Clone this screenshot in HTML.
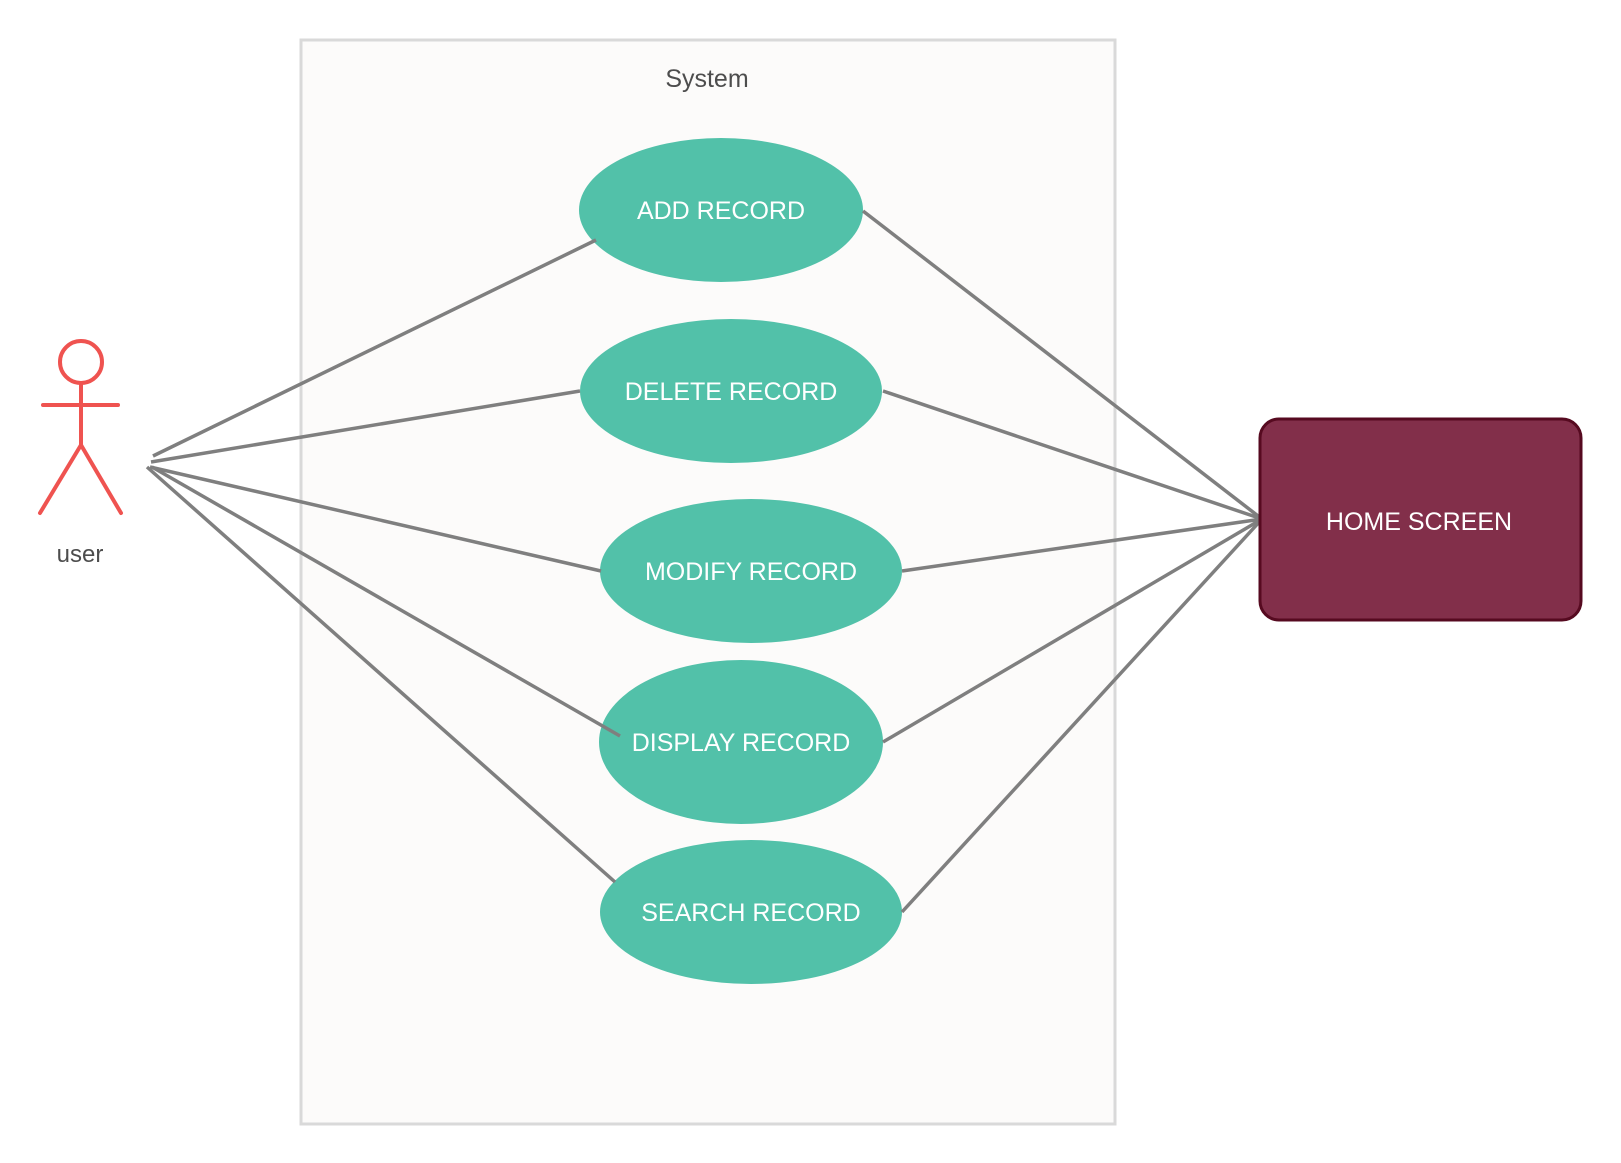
<!DOCTYPE html>
<html><head><meta charset="utf-8"><style>
html,body{margin:0;padding:0;background:#fff;}
svg{display:block;}
</style></head><body>
<svg width="1621" height="1163" viewBox="0 0 1621 1163" xmlns="http://www.w3.org/2000/svg" font-family="Liberation Sans, sans-serif">
<rect x="301" y="40" width="814" height="1084" fill="#fcfbfa" stroke="#d9d9d9" stroke-width="3"/>
<text x="707" y="87" font-size="25" fill="#4d4d4d" text-anchor="middle">System</text>
<g fill="none" stroke="#ef5350" stroke-width="4" stroke-linecap="round">
<circle cx="81" cy="362" r="21"/>
<line x1="81" y1="383" x2="81" y2="445"/>
<line x1="43" y1="405" x2="118" y2="405"/>
<line x1="81" y1="445" x2="40" y2="513"/>
<line x1="81" y1="445" x2="121" y2="513"/>
</g>
<text x="80" y="562" font-size="24" fill="#4d4d4d" text-anchor="middle">user</text>
<g fill="#52c1a9">
<ellipse cx="721" cy="210" rx="142" ry="72"/>
<ellipse cx="731" cy="391" rx="151" ry="72"/>
<ellipse cx="751" cy="571" rx="151" ry="72"/>
<ellipse cx="741" cy="742" rx="142" ry="82"/>
<ellipse cx="751" cy="912" rx="151" ry="72"/>
</g>
<g stroke="#7f7f7f" stroke-width="3.5" fill="none">
<line x1="153" y1="456" x2="596" y2="240"/>
<line x1="151" y1="462" x2="580" y2="391"/>
<line x1="150" y1="467" x2="601" y2="571"/>
<line x1="152" y1="467" x2="620" y2="736"/>
<line x1="147" y1="467" x2="615" y2="882"/>
<line x1="863" y1="211" x2="1262" y2="519"/>
<line x1="883" y1="391" x2="1262" y2="519"/>
<line x1="902" y1="571" x2="1262" y2="519"/>
<line x1="883" y1="742" x2="1262" y2="519"/>
<line x1="902" y1="912" x2="1262" y2="519"/>
</g>
<g fill="#fff" font-size="25" text-anchor="middle">
<text x="721" y="219">ADD RECORD</text>
<text x="731" y="400">DELETE RECORD</text>
<text x="751" y="580">MODIFY RECORD</text>
<text x="741" y="751">DISPLAY RECORD</text>
<text x="751" y="921">SEARCH RECORD</text>
</g>
<rect x="1260" y="419" width="321" height="201" rx="19" fill="#822f4a" stroke="#560a20" stroke-width="3"/>
<text x="1419" y="530" font-size="25" fill="#fff" text-anchor="middle">HOME SCREEN</text>
</svg>
</body></html>
